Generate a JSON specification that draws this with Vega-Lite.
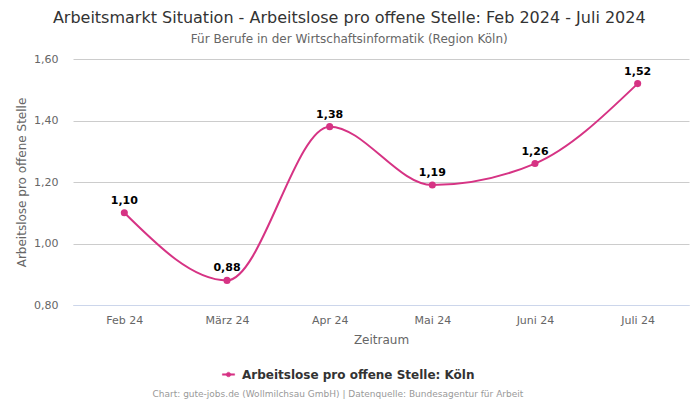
{
  "$schema": "https://vega.github.io/schema/vega-lite/v6.json",
  "background": "white",
  "padding": {"left": 15, "top": 10, "right": 10, "bottom": 4},
  "title": {
    "text": "Arbeitsmarkt Situation - Arbeitslose pro offene Stelle: Feb 2024 - Juli 2024",
    "subtitle": "Für Berufe in der Wirtschaftsinformatik (Region Köln)",
    "anchor": "middle",
    "dx": -3,
    "font": "DejaVu Sans",
    "fontSize": 16,
    "fontWeight": "normal",
    "color": "#333333",
    "subtitleFont": "DejaVu Sans",
    "subtitleFontSize": 12,
    "subtitleColor": "#666666",
    "subtitlePadding": 8,
    "offset": 8
  },
  "datasets": {
    "main": [
      {"monat": "Feb 24", "wert": 1.10, "serie": "Arbeitslose pro offene Stelle: Köln"},
      {"monat": "März 24", "wert": 0.88, "serie": "Arbeitslose pro offene Stelle: Köln"},
      {"monat": "Apr 24", "wert": 1.38, "serie": "Arbeitslose pro offene Stelle: Köln"},
      {"monat": "Mai 24", "wert": 1.19, "serie": "Arbeitslose pro offene Stelle: Köln"},
      {"monat": "Juni 24", "wert": 1.26, "serie": "Arbeitslose pro offene Stelle: Köln"},
      {"monat": "Juli 24", "wert": 1.52, "serie": "Arbeitslose pro offene Stelle: Köln"}
    ],
    "footer": [
      {"text": "Chart: gute-jobs.de (Wollmilchsau GmbH) | Datenquelle: Bundesagentur für Arbeit"}
    ]
  },
  "vconcat": [
    {
      "width": 616,
      "height": 246,
      "data": {"name": "main"},
      "encoding": {
        "x": {
          "field": "monat",
          "type": "ordinal",
          "sort": null,
          "scale": {"type": "point", "padding": 0.5},
          "axis": {
            "title": "Zeitraum",
            "labelAngle": 0,
            "ticks": false,
            "domainColor": "#ccd6eb",
            "labelPadding": 9,
            "titlePadding": 9
          }
        },
        "y": {
          "field": "wert",
          "type": "quantitative",
          "scale": {"domain": [0.8, 1.6], "nice": false, "zero": false},
          "axis": {
            "title": "Arbeitslose pro offene Stelle",
            "format": ".2f",
            "values": [0.8, 1.0, 1.2, 1.4, 1.6],
            "domain": false,
            "ticks": false,
            "labelPadding": 15,
            "titlePadding": 5,
            "gridColor": "#cccccc"
          }
        },
        "color": {
          "field": "serie",
          "type": "nominal",
          "scale": {"range": ["#d63384"]},
          "legend": {
            "title": null,
            "orient": "none",
            "legendX": 149,
            "legendY": 309,
            "direction": "horizontal",
            "symbolType": "M-1,-0.12H1V0.12H-1Z M-0.38,0 A0.38,0.38 0 1,1 0.38,0 A0.38,0.38 0 1,1 -0.38,0 Z",
            "symbolSize": 150,
            "symbolFillColor": "#d63384",
            "symbolStrokeColor": "#d63384",
            "symbolStrokeWidth": 0.5,
            "labelOffset": 7,
            "labelFont": "DejaVu Sans",
            "labelFontSize": 12,
            "labelFontWeight": "bold",
            "labelColor": "#333333",
            "labelLimit": 500
          }
        }
      },
      "layer": [
        {"mark": {"type": "line", "interpolate": "monotone", "strokeWidth": 2}},
        {"mark": {"type": "point", "filled": true, "size": 50, "opacity": 1}},
        {
          "mark": {"type": "text", "dy": -12, "fontWeight": "bold", "fontSize": 11, "font": "DejaVu Sans", "color": "#000000"},
          "encoding": {
            "text": {"field": "wert", "type": "quantitative", "format": ".2f"},
            "color": {"value": "#000000"}
          }
        }
      ]
    },
    {
      "width": 616,
      "height": 1,
      "data": {"name": "footer"},
      "mark": {"type": "text", "fontSize": 9, "font": "DejaVu Sans", "color": "#999999", "align": "center"},
      "encoding": {
        "text": {"field": "text"},
        "x": {"datum": 0.43, "type": "quantitative", "scale": {"domain": [0, 1]}, "axis": null}
      }
    }
  ],
  "resolve": {"legend": {"color": "independent"}, "scale": {"x": "independent"}},
  "spacing": 8,
  "config": {
    "view": {"stroke": null},
    "locale": {
      "number": {"decimal": ",", "thousands": ".", "grouping": [3], "currency": ["", " €"]}
    },
    "axis": {
      "labelFont": "DejaVu Sans",
      "labelFontSize": 11,
      "labelColor": "#666666",
      "titleFont": "DejaVu Sans",
      "titleFontSize": 12,
      "titleFontWeight": "normal",
      "titleColor": "#666666"
    }
  }
}
